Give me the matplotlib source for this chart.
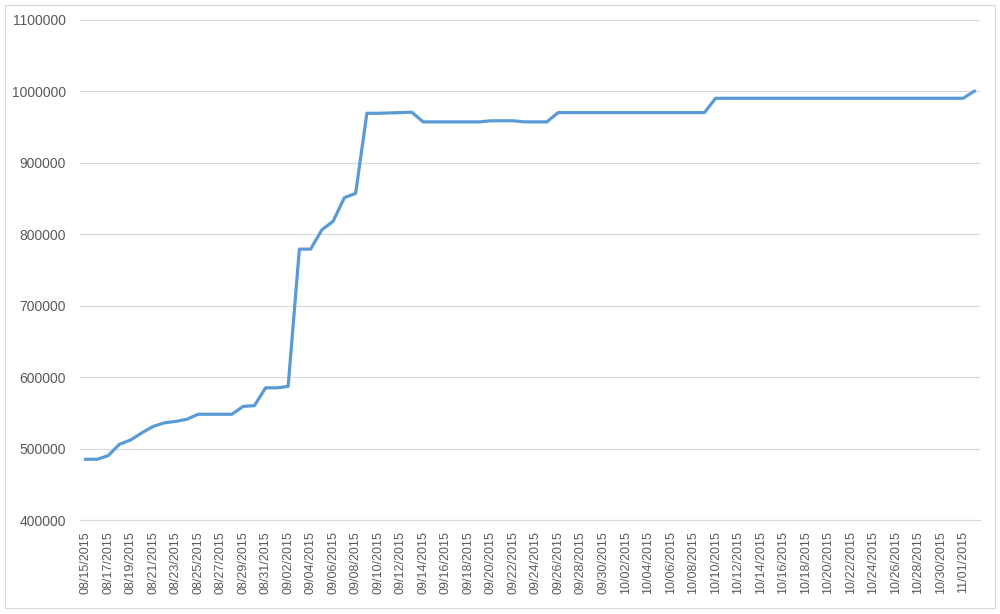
from matplotlib import pyplot as plt
from matplotlib.patches import Rectangle
import numpy as np
import pandas as pd

plt.rcParams['font.family'] = ['Liberation Sans', 'DejaVu Sans']

# daily categories, 08/15/2015 .. 11/02/2015
dates = pd.date_range('2015-08-15', periods=80, freq='D')
date_labels = [d.strftime('%m/%d/%Y') for d in dates]

values = [485000, 485000, 490000, 506000, 512000, 522000, 531000, 536000,
          538000, 541000, 548000, 548000, 548000, 548000, 559000, 560000,
          585000, 585000, 587000, 779000, 779000, 806000, 818000, 851000,
          857000, 969000, 969000, 969500, 970000, 970500] \
    + [957000] * 6 + [958500] * 3 + [957000] * 3 \
    + [970000] * 14 + [990000] * 23 + [1000000]

y_ticks = [400000, 500000, 600000, 700000, 800000, 900000, 1000000, 1100000]

line_color = '#5B9BD5'
grid_color = '#D9D9D9'
text_color = '#595959'

fig = plt.figure(figsize=(10, 6.14), dpi=100)
ax = fig.add_axes([0.08, 0.153, 0.90, 0.815])

x = np.arange(len(values))
ax.plot(x, values, color=line_color, linewidth=2.3, solid_joinstyle='round')

ax.set_xlim(-0.5, len(values) - 0.5)
ax.set_ylim(400000, 1100000)
ax.set_yticks(y_ticks)
ax.set_yticklabels([str(v) for v in y_ticks])
ax.set_xticks(x[:-1:2])
ax.set_xticklabels(date_labels[:-1:2], rotation=90)

ax.grid(axis='y', color=grid_color, linewidth=0.8)
ax.set_axisbelow(True)
for s in ['top', 'right', 'left']:
    ax.spines[s].set_visible(False)
ax.spines['bottom'].set_color(grid_color)
ax.spines['bottom'].set_linewidth(0.8)
ax.tick_params(axis='both', length=0, colors=text_color)
ax.tick_params(axis='y', labelsize=10, pad=10)
ax.tick_params(axis='x', labelsize=9, pad=8)

# chart area border
fig.patches.append(Rectangle((0.005, 0.01), 0.99, 0.982, transform=fig.transFigure,
                             fill=False, edgecolor=grid_color, linewidth=0.8))

plt.savefig('out.png', dpi=100)
